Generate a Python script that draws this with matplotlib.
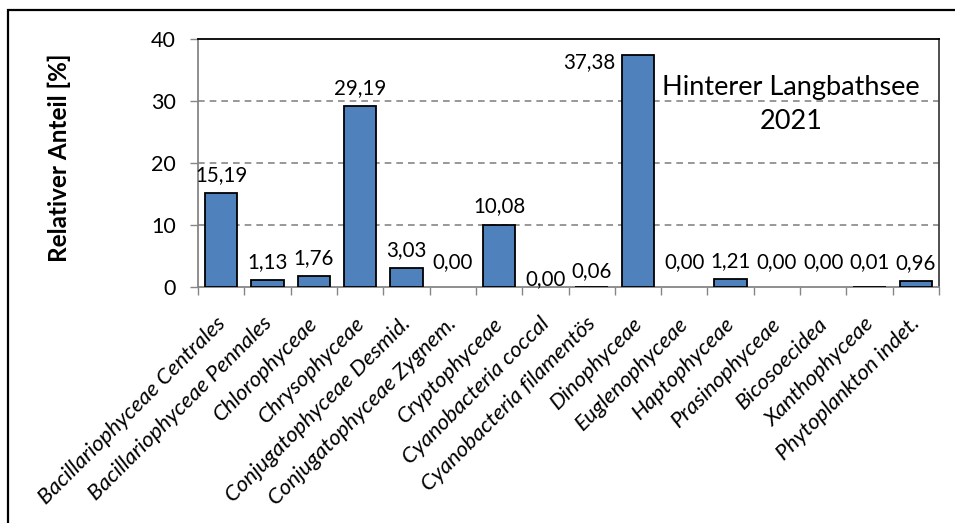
import matplotlib
matplotlib.use("Agg")
import matplotlib.pyplot as plt
import matplotlib.transforms as mtransforms
import numpy as np

plt.rcParams['font.family'] = ['Lato', 'DejaVu Sans']

# données
categories = [
    "Bacillariophyceae Centrales", "Bacillariophyceae Pennales", "Chlorophyceae",
    "Chrysophyceae", "Conjugatophyceae Desmid.", "Conjugatophyceae Zygnem.",
    "Cryptophyceae", "Cyanobacteria coccal", "Cyanobacteria filamentös",
    "Dinophyceae", "Euglenophyceae", "Haptophyceae", "Prasinophyceae",
    "Bicosoecidea", "Xanthophyceae", "Phytoplankton indet.",
]
values = [15.19, 1.13, 1.76, 29.19, 3.03, 0.00, 10.08, 0.00, 0.06,
          37.38, 0.00, 1.21, 0.00, 0.00, 0.01, 0.96]
yticks = [0, 10, 20, 30, 40]
title_lines = ["Hinterer Langbathsee", "2021"]

W, H = 955, 523
fig = plt.figure(figsize=(W / 100, H / 100), dpi=100)

# cadre extérieur (bord gauche + haut seulement visibles)
fig.patches.append(plt.Rectangle((8 / W, -0.1), 1.2, 1 - 10 / H + 0.1,
                                 transform=fig.transFigure, fill=False,
                                 edgecolor='black', linewidth=1.6))

ax = fig.add_axes([198 / W, (H - 287) / H, 741 / W, 248 / H])
x = np.arange(len(categories))
edges = ['none' if v == 0 else 'black' for v in values]
ax.bar(x, values, width=0.7, color='#4F81BD', edgecolor=edges, linewidth=1.3, zorder=3)

ax.set_xlim(-0.5, len(categories) - 0.5)
ax.set_ylim(0, 40)
ax.set_yticks(yticks)
ax.tick_params(axis='y', labelsize=15.5, length=6, color='#868686', width=1, pad=10)
for y in yticks[1:-1]:
    ax.axhline(y, color='#868686', linestyle=(0, (4, 3)), linewidth=1.2, zorder=1)

# graduations x entre les catégories
ax.set_xticks(np.arange(-0.5, len(categories)), minor=True)
ax.set_xticks(x)
ax.set_xticklabels(categories, rotation=45, ha='right', rotation_mode='anchor',
                   fontsize=16, style='italic')
ax.tick_params(axis='x', which='major', length=0, pad=19)
ax.tick_params(axis='x', which='minor', length=6, color='#868686', width=1)
shift = mtransforms.ScaledTranslation(-6 / 100, 0, fig.dpi_scale_trans)
for lab in ax.get_xticklabels():
    lab.set_transform(lab.get_transform() + shift)

for s in ['left', 'bottom']:
    ax.spines[s].set_color('#868686')
    ax.spines[s].set_linewidth(1.3)
ax.spines['top'].set_color('black')
ax.spines['top'].set_linewidth(1.3)
ax.spines['right'].set_color('#404040')
ax.spines['right'].set_linewidth(1.3)

ax.set_ylabel("Relativer Anteil [%]", fontsize=17.5, fontweight='bold')
ax.yaxis.set_label_coords(-(198 - 71) / 741, 0.52)

# étiquettes de valeurs
for i, v in enumerate(values):
    txt = f"{v:.2f}".replace('.', ',')
    off = (0, 13)
    if categories[i] == "Dinophyceae":
        off = (-35, -5)
    elif categories[i] == "Cyanobacteria coccal":
        off = (0, 6)
    elif categories[i] == "Cyanobacteria filamentös":
        off = (0, 11.5)
    elif v < 0.05:
        off = (0, 18)
    ax.annotate(txt, (i, v), xytext=off, textcoords='offset points',
                ha='center', va='center', fontsize=14.8)

ax.text(0.80, 0.735, "\n".join(title_lines), transform=ax.transAxes,
        ha='center', va='center', fontsize=19.5, linespacing=1.45)

fig.savefig("out.png", dpi=100)
